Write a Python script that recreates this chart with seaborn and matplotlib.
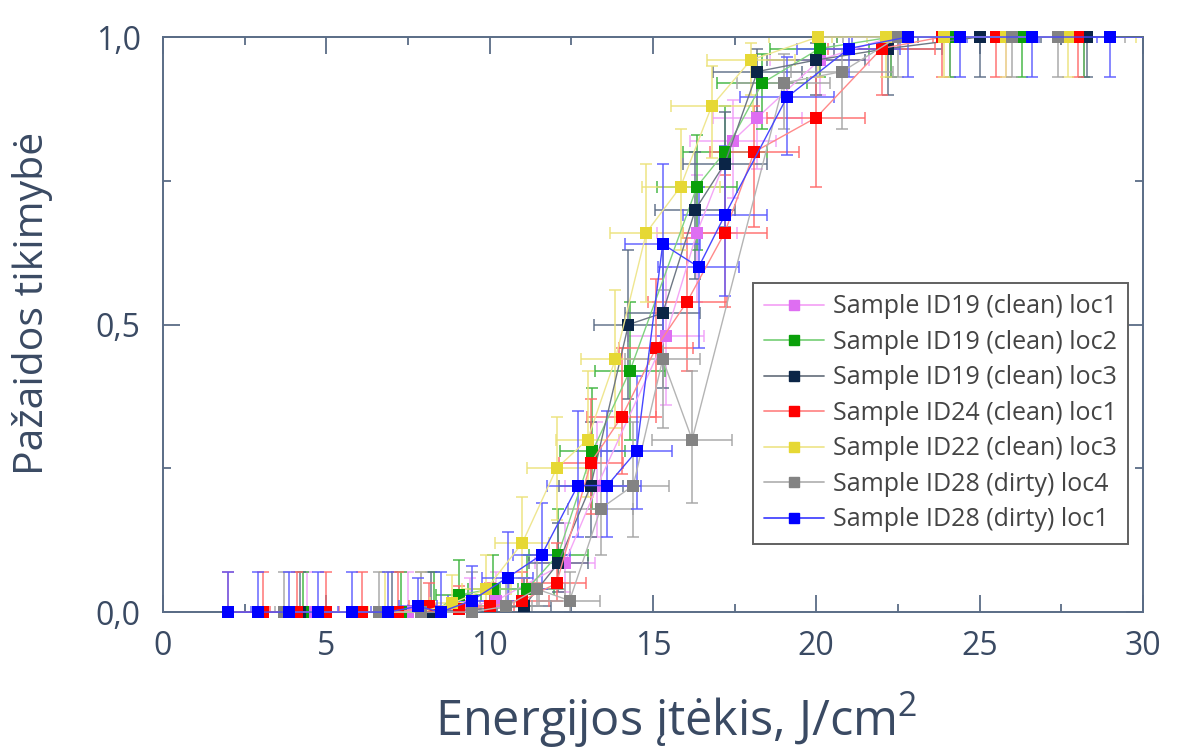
import numpy as np
import pandas as pd
import matplotlib
matplotlib.use("Agg")
import matplotlib.pyplot as plt
from matplotlib.lines import Line2D
from matplotlib.ticker import MultipleLocator, FuncFormatter
import seaborn as sns

# relative fluence uncertainty
XERR_FRAC = 0.075

labels = [
    "Sample ID19 (clean) loc1",
    "Sample ID19 (clean) loc2",
    "Sample ID19 (clean) loc3",
    "Sample ID24 (clean) loc1",
    "Sample ID22 (clean) loc3",
    "Sample ID28 (dirty) loc4",
    "Sample ID28 (dirty) loc1",
]

# ID19 loc1
x_19_1 = [4.4, 7.5, 9.4, 10.2, 12.3, 13.3, 15.4, 16.35, 17.45, 18.2, 20.1, 22.3, 24.1, 25.8, 28.2]
y_19_1 = [0, 0, 0.01, 0.02, 0.085, 0.22, 0.48, 0.66, 0.82, 0.86, 0.96, 1, 1, 1, 1]
lo_19_1 = [0, 0, 0.01, 0.02, 0.05, 0.09, 0.12, 0.12, 0.10, 0.09, 0.06, 0.07, 0.07, 0.07, 0.07]
hi_19_1 = [0.07, 0.07, 0.05, 0.05, 0.07, 0.11, 0.12, 0.10, 0.07, 0.06, 0.03, 0, 0, 0, 0]

# ID19 loc2
x_19_2 = [4.3, 7.3, 8.3, 9.05, 10.1, 11.15, 12.1, 13.15, 14.3, 16.35, 17.2, 18.35, 20.1, 22.3, 24.1, 26.3, 28.2]
y_19_2 = [0, 0, 0, 0.03, 0.04, 0.04, 0.10, 0.28, 0.42, 0.74, 0.80, 0.92, 0.98, 1, 1, 1, 1]
lo_19_2 = [0, 0, 0, 0.03, 0.03, 0.03, 0.06, 0.10, 0.12, 0.11, 0.10, 0.08, 0.05, 0.07, 0.07, 0.07, 0.07]
hi_19_2 = [0.07, 0.07, 0.07, 0.06, 0.06, 0.06, 0.08, 0.11, 0.12, 0.09, 0.08, 0.05, 0.02, 0, 0, 0, 0]

# ID19 loc3
x_19_3 = [4.2, 7.0, 8.2, 11.05, 12.1, 13.1, 14.25, 15.3, 16.3, 17.2, 18.2, 20.0, 22.2, 25.0, 28.3]
y_19_3 = [0, 0, 0, 0.01, 0.085, 0.22, 0.50, 0.52, 0.70, 0.78, 0.94, 0.96, 0.98, 1, 1]
lo_19_3 = [0, 0, 0, 0.01, 0.05, 0.09, 0.13, 0.13, 0.12, 0.11, 0.07, 0.06, 0.08, 0.07, 0.07]
hi_19_3 = [0.07, 0.07, 0.07, 0.05, 0.07, 0.11, 0.13, 0.12, 0.10, 0.09, 0.04, 0.03, 0.02, 0, 0]

# ID24 loc1
x_24_1 = [2.0, 3.05, 4.1, 5.0, 6.1, 7.2, 8.15, 9.05, 10.0, 11.0, 12.05, 13.1, 14.05, 15.1, 16.05, 17.2, 18.1, 20.0, 22.0, 23.85, 25.5, 28.0]
y_24_1 = [0, 0, 0, 0, 0, 0, 0.01, 0.005, 0.01, 0.02, 0.05, 0.26, 0.34, 0.46, 0.54, 0.66, 0.80, 0.86, 0.98, 1, 1, 1]
lo_24_1 = [0, 0, 0, 0, 0, 0, 0.01, 0.005, 0.01, 0.02, 0.03, 0.09, 0.10, 0.12, 0.12, 0.13, 0.13, 0.12, 0.08, 0.07, 0.07, 0.07]
hi_24_1 = [0.07, 0.07, 0.07, 0.07, 0.07, 0.07, 0.04, 0.04, 0.04, 0.05, 0.07, 0.11, 0.12, 0.12, 0.11, 0.10, 0.08, 0.07, 0.02, 0, 0, 0]

# ID22 loc3
x_22_3 = [6.8, 7.9, 8.85, 9.9, 11.0, 12.05, 13.0, 13.85, 14.8, 15.85, 16.8, 18.0, 20.05, 22.15, 23.9, 25.8, 27.7]
y_22_3 = [0, 0, 0.015, 0.04, 0.12, 0.25, 0.30, 0.44, 0.66, 0.74, 0.88, 0.96, 1, 1, 1, 1, 1]
lo_22_3 = [0, 0, 0.015, 0.03, 0.06, 0.09, 0.10, 0.12, 0.12, 0.11, 0.09, 0.06, 0.07, 0.07, 0.07, 0.07, 0.07]
hi_22_3 = [0.07, 0.07, 0.05, 0.06, 0.08, 0.09, 0.12, 0.12, 0.12, 0.10, 0.07, 0.03, 0, 0, 0, 0, 0]

# ID28 loc4
x_28_4 = [3.7, 6.6, 7.9, 9.45, 10.5, 11.45, 12.45, 13.4, 14.4, 15.3, 16.2, 19.0, 20.8, 22.5, 26.0, 27.4]
y_28_4 = [0, 0, 0, 0, 0.01, 0.04, 0.02, 0.18, 0.22, 0.44, 0.30, 0.92, 0.94, 1, 1, 1]
lo_28_4 = [0, 0, 0, 0, 0.01, 0.03, 0.02, 0.08, 0.09, 0.12, 0.11, 0.08, 0.10, 0.07, 0.07, 0.07]
hi_28_4 = [0.07, 0.07, 0.07, 0.07, 0.05, 0.06, 0.05, 0.10, 0.11, 0.12, 0.12, 0.05, 0.04, 0, 0, 0]

# ID28 loc1
x_28_1 = [2.0, 2.9, 3.85, 4.75, 5.8, 6.9, 7.8, 8.5, 9.45, 10.55, 11.6, 12.7, 13.6, 14.5, 15.3, 16.4, 17.2, 19.1, 21.0, 22.8, 24.4, 26.6, 29.0]
y_28_1 = [0, 0, 0, 0, 0, 0, 0.01, 0, 0.02, 0.06, 0.10, 0.22, 0.22, 0.28, 0.64, 0.60, 0.69, 0.895, 0.98, 1, 1, 1, 1]
lo_28_1 = [0, 0, 0, 0, 0, 0, 0.01, 0, 0.02, 0.04, 0.06, 0.09, 0.09, 0.10, 0.16, 0.14, 0.14, 0.10, 0.05, 0.07, 0.07, 0.07, 0.07]
hi_28_1 = [0.07, 0.07, 0.07, 0.07, 0.07, 0.07, 0.05, 0.07, 0.06, 0.08, 0.09, 0.13, 0.13, 0.13, 0.14, 0.14, 0.12, 0.07, 0.02, 0, 0, 0, 0]

xs = [x_19_1, x_19_2, x_19_3, x_24_1, x_22_3, x_28_4, x_28_1]
ys = [y_19_1, y_19_2, y_19_3, y_24_1, y_22_3, y_28_4, y_28_1]
los = [lo_19_1, lo_19_2, lo_19_3, lo_24_1, lo_22_3, lo_28_4, lo_28_1]
his = [hi_19_1, hi_19_2, hi_19_3, hi_24_1, hi_22_3, hi_28_4, hi_28_1]

marker_colors = ["#de6ef2", "#0aa00a", "#0b2547", "#ff0000", "#e6d834", "#838383", "#0000ff"]
line_colors = ["#f4a6f6", "#7fd27f", "#6e7784", "#ff8a8a", "#efe690", "#b4b4b4", "#4646ff"]
err_colors = ["#f0a0f8", "#3cb43c", "#5a6b85", "#ff6a6a", "#ece27a", "#a4a4a4", "#5a5aff"]

TEXT = "#3a4a63"
SPINE = "#5a6c86"

sns.set_style("ticks")
plt.rcParams["font.family"] = ["Open Sans", "DejaVu Sans"]
plt.rcParams["mathtext.default"] = "regular"

fig = plt.figure(figsize=(11.92, 7.51), dpi=100)
ax = fig.add_axes([0.1367, 0.185, 0.8221, 0.7657])

for i, lab in enumerate(labels):
    df = pd.DataFrame({"x": xs[i], "y": ys[i]})
    xerr = XERR_FRAC * np.array(xs[i])
    ax.errorbar(df["x"], df["y"], xerr=xerr, yerr=[los[i], his[i]], fmt="none",
                ecolor=err_colors[i], elinewidth=1.2, capsize=4, capthick=1.2,
                alpha=0.85, zorder=2 + i * 0.1)
    sns.lineplot(data=df, x="x", y="y", ax=ax, sort=False, errorbar=None,
                 color=line_colors[i], linewidth=1.0, marker="s", markersize=9,
                 markerfacecolor=marker_colors[i], markeredgecolor=marker_colors[i],
                 markeredgewidth=0, clip_on=False, zorder=3 + i * 0.1, legend=False)

ax.set_xlim(0, 30)
ax.set_ylim(0, 1)
ax.xaxis.set_major_locator(MultipleLocator(5))
ax.xaxis.set_minor_locator(MultipleLocator(2.5))
ax.yaxis.set_major_locator(MultipleLocator(0.5))
ax.yaxis.set_minor_locator(MultipleLocator(0.25))
ax.yaxis.set_major_formatter(FuncFormatter(lambda v, p: f"{v:.1f}".replace(".", ",")))
ax.xaxis.set_major_formatter(FuncFormatter(lambda v, p: f"{v:.0f}"))

ax.tick_params(which="both", direction="in", top=True, right=True, color=SPINE,
               labelcolor=TEXT, labelsize=23)
ax.tick_params(which="major", length=12, width=1.3)
ax.tick_params(which="minor", length=6, width=1.3)
ax.tick_params(axis="y", pad=16)
ax.tick_params(axis="x", pad=13)
for s in ax.spines.values():
    s.set_color(SPINE)
    s.set_linewidth(1.4)

ax.set_ylabel("Pažaidos tikimybė", fontsize=29.5, color=TEXT)
ax.yaxis.set_label_coords(-0.112, 0.536)
ax.set_xlabel("Energijos įtėkis, J/cm$^2$", fontsize=35, color=TEXT)
ax.xaxis.set_label_coords(0.524, -0.135)

handles = [Line2D([0], [0], color=line_colors[i], lw=1.3, marker="s", ms=7.5,
                  markerfacecolor=marker_colors[i], markeredgecolor=marker_colors[i])
           for i in range(len(labels))]
leg = ax.legend(handles, labels, loc="upper left", bbox_to_anchor=(0.602, 0.572),
                borderaxespad=0, fontsize=18, frameon=True, fancybox=False,
                framealpha=1, edgecolor="#606060", labelspacing=0.42,
                handlelength=2.4, handletextpad=0.35, borderpad=0.45)
leg.get_frame().set_linewidth(1.4)
for t in leg.get_texts():
    t.set_color("#444444")

fig.savefig("out.png", dpi=100)
